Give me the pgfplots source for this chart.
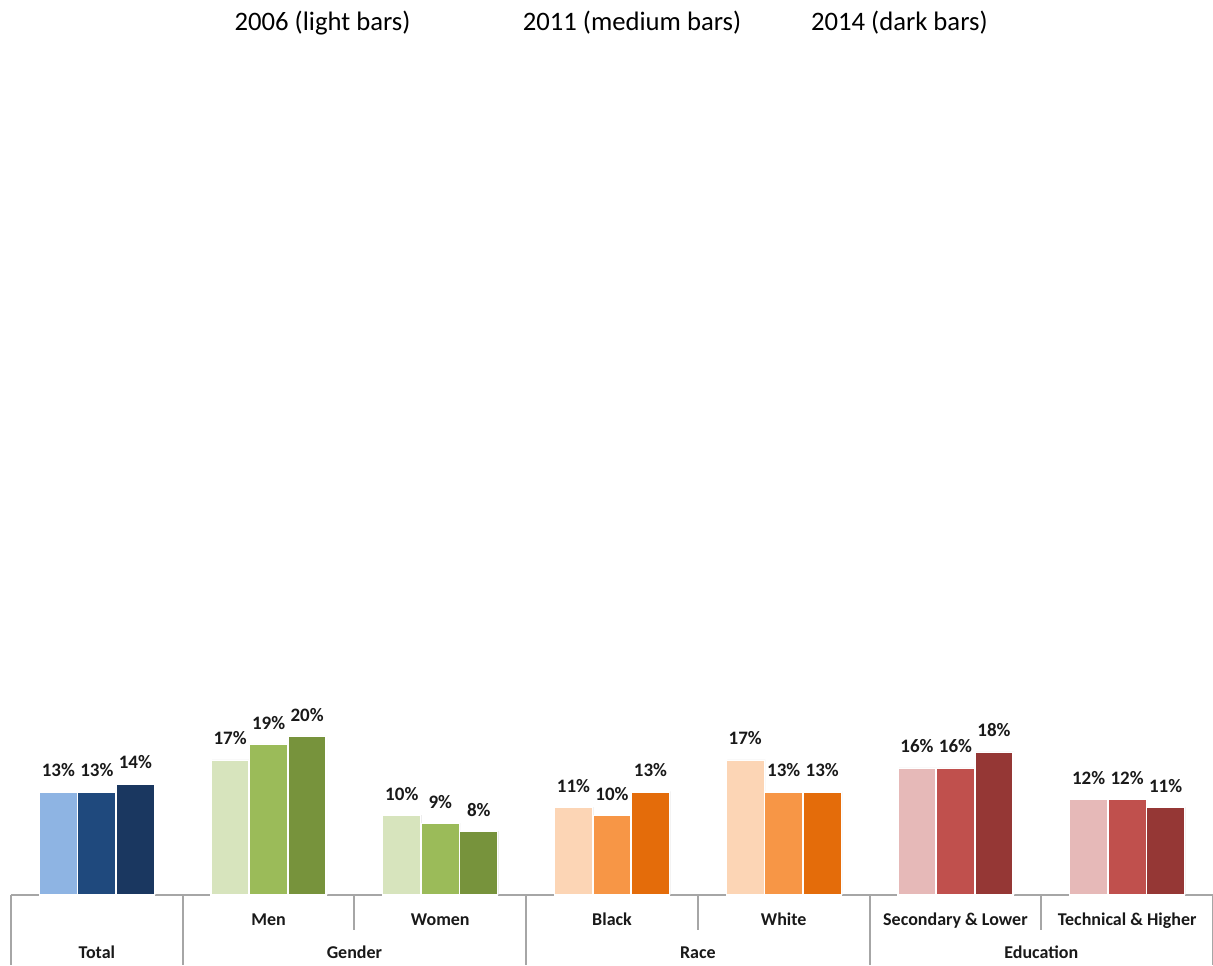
\documentclass[border=0pt]{standalone}
\usepackage{fontspec}
\setmainfont{Carlito}
\usepackage{pgfplots}
\pgfplotsset{compat=1.18}

% colour families: light = 2006, medium = 2011, dark = 2014
\definecolor{blueL}{HTML}{8EB4E3}
\definecolor{blueM}{HTML}{1F497D}
\definecolor{blueD}{HTML}{1A3760}
\definecolor{greenL}{HTML}{D7E4BD}
\definecolor{greenM}{HTML}{9BBB59}
\definecolor{greenD}{HTML}{77933C}
\definecolor{orangeL}{HTML}{FCD5B5}
\definecolor{orangeM}{HTML}{F79646}
\definecolor{orangeD}{HTML}{E46C0A}
\definecolor{redL}{HTML}{E6B9B8}
\definecolor{redM}{HTML}{C0504D}
\definecolor{redD}{HTML}{953735}
\definecolor{sepgray}{HTML}{A6A6A6}

\pgfplotsset{
  yr/.style={ybar, bar width=28.5pt, draw=white, line width=0.9pt,
    preaction={fill=black!30, opacity=0.35, transform canvas={xshift=0.8pt, yshift=0.4pt}},
    nodes near coords={\pgfmathprintnumber[fixed,precision=0,assume math mode=true]{\pgfplotspointmeta}\%},
    every node near coord/.append style={anchor=base, yshift=11.5pt, text=black!90,
      font=\bfseries\fontsize{14.25}{17}\selectfont}},
  y06/.style={yr, bar shift=-28.875pt, every node near coord/.append style={xshift=-28.875pt}},
  y11/.style={yr, bar shift=0pt},
  y14/.style={yr, bar shift=28.875pt, every node near coord/.append style={xshift=28.875pt}},
}

\begin{document}
\begin{tikzpicture}
\useasboundingbox (0,0) rectangle (909.75pt,723.75pt);

\node[anchor=base, font=\fontsize{20}{24}\selectfont] at (241.9pt,701pt) {2006 (light bars)};
\node[anchor=base, font=\fontsize{20}{24}\selectfont] at (474pt,701pt) {2011 (medium bars)};
\node[anchor=base, font=\fontsize{20}{24}\selectfont] at (674.5pt,701pt) {2014 (dark bars)};

\begin{axis}[
  at={(8.25pt,52.5pt)}, anchor=south west,
  scale only axis, width=901.5pt, height=588.75pt,
  xmin=-0.5, xmax=6.5, ymin=0, ymax=99,
  axis y line=none, axis x line*=bottom,
  x axis line style={draw=sepgray, line width=1.5pt},
  xtick={0,1,2,3,4,5,6},
  xticklabels={,Men,Women,Black,White,Secondary \& Lower,Technical \& Higher},
  major tick length=0pt,
  xticklabel style={anchor=base, yshift=-22.5pt, text=black!90,
    font=\bfseries\fontsize{13.5}{16}\selectfont},
  extra x ticks={0,1.5,3.5,5.5},
  extra x tick labels={Total,Gender,Race,Education},
  extra x tick style={xticklabel style={yshift=-24.75pt}},
  clip=false,
]
% Total
\addplot[y06, fill=blueL] coordinates {(0,13)};
\addplot[y11, fill=blueM] coordinates {(0,13)};
\addplot[y14, fill=blueD] coordinates {(0,14)};
% Gender
\addplot[y06, fill=greenL] coordinates {(1,17) (2,10)};
\addplot[y11, fill=greenM] coordinates {(1,19) (2,9)};
\addplot[y14, fill=greenD] coordinates {(1,20) (2,8)};
% Race
\addplot[y06, fill=orangeL] coordinates {(3,11) (4,17)};
\addplot[y11, fill=orangeM] coordinates {(3,10) (4,13)};
\addplot[y14, fill=orangeD] coordinates {(3,13) (4,13)};
% Education
\addplot[y06, fill=redL] coordinates {(5,16) (6,12)};
\addplot[y11, fill=redM] coordinates {(5,16) (6,12)};
\addplot[y14, fill=redD] coordinates {(5,18) (6,11)};

% category separators below the baseline
\draw[sepgray, line width=1.5pt] (axis cs:-0.5,0) -- ([yshift=-52.5pt]axis cs:-0.5,0);
\draw[sepgray, line width=1.5pt] (axis cs:0.5,0) -- ([yshift=-52.5pt]axis cs:0.5,0);
\draw[sepgray, line width=1.5pt] (axis cs:1.5,0) -- ([yshift=-26.25pt]axis cs:1.5,0);
\draw[sepgray, line width=1.5pt] (axis cs:2.5,0) -- ([yshift=-52.5pt]axis cs:2.5,0);
\draw[sepgray, line width=1.5pt] (axis cs:3.5,0) -- ([yshift=-26.25pt]axis cs:3.5,0);
\draw[sepgray, line width=1.5pt] (axis cs:4.5,0) -- ([yshift=-52.5pt]axis cs:4.5,0);
\draw[sepgray, line width=1.5pt] (axis cs:5.5,0) -- ([yshift=-26.25pt]axis cs:5.5,0);
\draw[sepgray, line width=1.5pt] (axis cs:6.5,0) -- ([yshift=-52.5pt]axis cs:6.5,0);
\end{axis}
\end{tikzpicture}
\end{document}
